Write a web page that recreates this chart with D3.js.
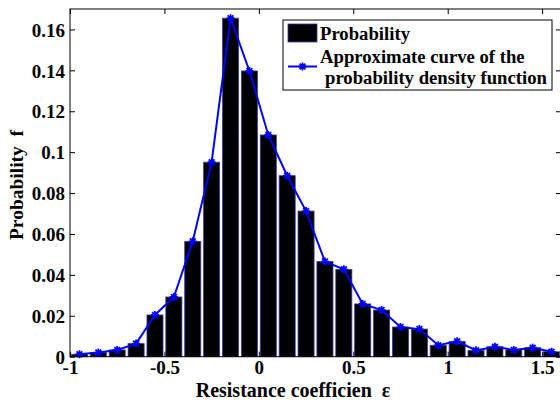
<html>
  <head>
    <meta charset="utf-8">
    <title>Resistance coefficient histogram</title>
    <script src="https://d3js.org/d3.v7.min.js"></script>
    <style>
      body { margin: 0; background: #fff; }
      text { font-family: "Liberation Serif", "Times New Roman", serif; font-weight: bold; white-space: pre; }
    </style>
  </head>
  <body>
    <svg width="560" height="405"></svg>
    <script>
    // bin centres of the resistance coefficient and the probability of each bin
    var binCenters = [-0.95, -0.85, -0.75, -0.65, -0.55, -0.45, -0.35, -0.25, -0.15, -0.05,
                      0.05, 0.15, 0.25, 0.35, 0.45, 0.55, 0.65, 0.75, 0.85, 0.95,
                      1.05, 1.15, 1.25, 1.35, 1.45, 1.55];
    var probability = [0.0012, 0.0020, 0.0033, 0.0064, 0.0204, 0.0292, 0.0564, 0.0951, 0.1655, 0.1397,
                       0.1084, 0.0885, 0.0712, 0.0465, 0.0427, 0.0258, 0.0228, 0.0145, 0.0135, 0.0056,
                       0.0075, 0.0031, 0.0049, 0.0033, 0.0044, 0.0024];
    var xTicks = [-1, -0.5, 0, 0.5, 1, 1.5];
    var yTicks = [0, 0.02, 0.04, 0.06, 0.08, 0.1, 0.12, 0.14, 0.16];
    var legendLabels = ["Probability", "Approximate curve of the", "probability density function"];

    var svg = d3.select("svg"),
        pLeft = 70, pRight = 561, pTop = 9, pBottom = 356.7;

    var x = d3.scaleLinear().domain([-1, 1.6]).range([pLeft, pRight]);
    var y = d3.scaleLinear().domain([0, 0.17]).range([pBottom, pTop]);

    var data = binCenters.map((c, i) => ({c: c, p: probability[i]}));
    var barW = x(0.085) - x(0);

    var plot = svg.append("g");

    plot.selectAll(".bar")
        .data(data)
        .enter()
        .append("rect")
          .attr("class", "bar")
          .attr("x", d => x(d.c) - barW / 2)
          .attr("width", barW)
          .attr("y", d => y(d.p))
          .attr("height", d => y(0) - y(d.p))
          .attr("fill", "#000")
          .attr("stroke", "#3a3aa8")
          .attr("stroke-width", 0.8);

    var line = d3.line().x(d => x(d.c)).y(d => y(d.p));
    plot.append("path")
        .datum(data)
        .attr("d", line)
        .attr("fill", "none")
        .attr("stroke", "#0000ff")
        .attr("stroke-width", 2);

    // asterisk markers like matlab '-*'
    function star(g, cx, cy) {
      var r = 4, s = r * 0.72;
      g.append("path")
        .attr("d", `M${cx-r},${cy}H${cx+r}M${cx},${cy-r}V${cy+r}M${cx-s},${cy-s}L${cx+s},${cy+s}M${cx-s},${cy+s}L${cx+s},${cy-s}`)
        .attr("stroke", "#0000ff")
        .attr("stroke-width", 1.8)
        .attr("fill", "none");
    }
    data.forEach(d => star(plot, x(d.c), y(d.p)));

    // axes box and inward ticks
    svg.append("rect")
        .attr("x", pLeft).attr("y", pTop)
        .attr("width", pRight - pLeft).attr("height", pBottom - pTop)
        .attr("fill", "none").attr("stroke", "#000").attr("stroke-width", 1);

    var fmt = d => String(+d.toFixed(2));

    var xb = svg.append("g").attr("transform", `translate(0,${pBottom})`)
        .call(d3.axisBottom(x).tickValues(xTicks).tickFormat(fmt).tickSize(-5).tickPadding(4));
    var xt = svg.append("g").attr("transform", `translate(0,${pTop})`)
        .call(d3.axisTop(x).tickValues(xTicks).tickFormat("").tickSize(-5));
    var yl = svg.append("g").attr("transform", `translate(${pLeft},0)`)
        .call(d3.axisLeft(y).tickValues(yTicks).tickFormat(fmt).tickSize(-5).tickPadding(5));
    var yr = svg.append("g").attr("transform", `translate(${pRight},0)`)
        .call(d3.axisRight(y).tickValues(yTicks).tickFormat("").tickSize(-5));

    [xb, xt, yl, yr].forEach(a => {
      a.select(".domain").remove();
      a.selectAll("text").attr("fill", "#000")
       .style("font-size", "19px")
       .style("font-family", "'Liberation Serif', serif").style("font-weight", "bold");
    });
    xb.selectAll("text").attr("dy", "0.71em");
    yl.selectAll("text").attr("dy", "0.35em");

    svg.append("text")
        .attr("x", 293).attr("y", 397)
        .attr("text-anchor", "middle")
        .style("font-size", "20px")
        .text("Resistance coefficien  \u03b5");

    svg.append("text")
        .attr("transform", "translate(23,185) rotate(-90)")
        .attr("text-anchor", "middle")
        .style("font-size", "19.5px")
        .text("Probability  f");

    // legend
    var lg = svg.append("g");
    lg.append("rect")
        .attr("x", 283).attr("y", 20).attr("width", 269).attr("height", 70)
        .attr("fill", "#fff").attr("stroke", "#000").attr("stroke-width", 1);
    lg.append("rect")
        .attr("x", 288).attr("y", 24).attr("width", 29).attr("height", 18)
        .attr("fill", "#000").attr("stroke", "#3a3aa8").attr("stroke-width", 0.8);
    lg.append("line")
        .attr("x1", 288).attr("x2", 317).attr("y1", 66.5).attr("y2", 66.5)
        .attr("stroke", "#0000ff").attr("stroke-width", 2);
    star(lg, 302.5, 66.5);
    lg.append("text").attr("x", 320).attr("y", 40).style("font-size", "18.7px").text(legendLabels[0]);
    lg.append("text").attr("x", 320).attr("y", 63).style("font-size", "18.7px").text(legendLabels[1]);
    lg.append("text").attr("x", 325).attr("y", 84).style("font-size", "18.7px").text(legendLabels[2]);
    </script>
  </body>
</html>
